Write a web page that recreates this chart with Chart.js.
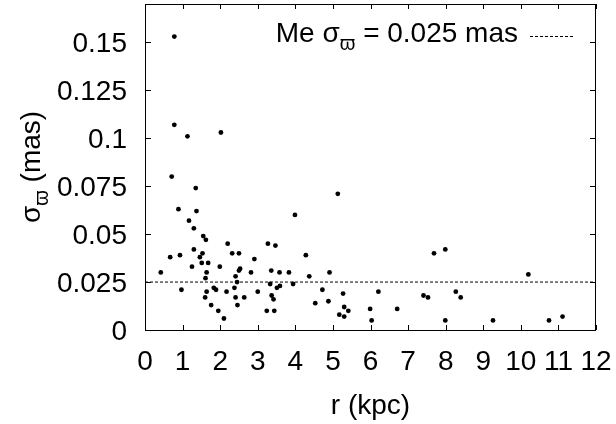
<!DOCTYPE html>
<html>
<head>
<meta charset="utf-8">
<script src="https://cdn.jsdelivr.net/npm/chart.js@4.4.1/dist/chart.umd.min.js"></script>
<style>
  html, body { margin: 0; padding: 0; background: #fff; }
  #wrap { width: 616px; height: 424px; }
</style>
</head>
<body>
<div id="wrap"><canvas id="sigmaChart"></canvas></div>
<script>
// distance r (kpc) and parallax error (mas)
const rKpc = [
  0.78, 0.78, 1.13, 2.02, 0.71, 1.35, 0.89, 1.37, 1.17, 1.30,
  1.55, 1.62, 2.20, 3.27, 0.67, 0.93, 1.30, 1.53, 1.46, 2.32,
  2.50, 2.91, 0.42, 1.25, 1.51, 1.68, 1.99, 1.64, 2.53, 2.50,
  2.82, 3.36, 1.61, 2.41, 2.45, 0.97, 1.64, 1.83, 1.89, 2.17,
  2.38, 3.00, 3.33, 3.37, 3.42, 1.60, 2.41, 2.64, 1.76, 2.46,
  1.95, 3.24, 2.10, 5.13, 3.99, 3.47, 4.28, 7.69, 3.58, 3.83,
  4.91, 4.37, 3.94, 3.59, 3.51, 4.72, 6.21, 5.27, 7.41, 7.53,
  4.53, 4.88, 5.30, 5.41, 5.17, 5.30, 3.44, 5.99, 6.71, 6.03,
  7.99, 10.20, 8.27, 8.40, 7.99, 9.26, 10.75, 11.11
];
const sigmaMas = [
  0.153, 0.107, 0.101, 0.103, 0.080, 0.074, 0.063, 0.062, 0.057, 0.053,
  0.049, 0.047, 0.045, 0.045, 0.038, 0.039, 0.042, 0.040, 0.038, 0.040,
  0.040, 0.037, 0.030, 0.033, 0.035, 0.035, 0.033, 0.030, 0.032, 0.031,
  0.030, 0.031, 0.027, 0.028, 0.025, 0.021, 0.020, 0.022, 0.021, 0.020,
  0.022, 0.020, 0.024, 0.018, 0.016, 0.017, 0.017, 0.017, 0.013, 0.013,
  0.010, 0.010, 0.006, 0.071, 0.060, 0.044, 0.039, 0.040, 0.030, 0.030,
  0.030, 0.028, 0.024, 0.023, 0.022, 0.021, 0.020, 0.019, 0.018, 0.017,
  0.014, 0.015, 0.012, 0.010, 0.008, 0.007, 0.010, 0.011, 0.011, 0.005,
  0.042, 0.029, 0.020, 0.017, 0.005, 0.005, 0.005, 0.007
];
const medianSigma = 0.025;
const medianRange = [0, 12];

const xTicks = [0, 1, 2, 3, 4, 5, 6, 7, 8, 9, 10, 11, 12];
const yTicks = [0, 0.025, 0.05, 0.075, 0.1, 0.125, 0.15];
const yTickLabels = ['0', '0.025', '0.05', '0.075', '0.1', '0.125', '0.15'];

const FONT = "'Liberation Sans', Arial, sans-serif";
const FSIZE = 28;

const points = rKpc.map((r, i) => ({ x: r, y: sigmaMas[i] }));
const medianLine = medianRange.map(r => ({ x: r, y: medianSigma }));

// text "σ" with subscript "ϖ" followed by rest, drawn piece by piece
function drawSigmaText(ctx, pre, post, x, y, size) {
  const subSize = Math.round(size * 0.7);
  ctx.font = size + 'px ' + FONT;
  let cx = x;
  ctx.fillText(pre + 'σ', cx, y);
  cx += ctx.measureText(pre + 'σ').width;
  ctx.font = subSize + 'px ' + FONT;
  ctx.fillText('ϖ', cx, y + size * 0.28);
  cx += ctx.measureText('ϖ').width;
  ctx.font = size + 'px ' + FONT;
  ctx.fillText(post, cx, y);
}
function sigmaTextWidth(ctx, pre, post, size) {
  const subSize = Math.round(size * 0.7);
  ctx.font = size + 'px ' + FONT;
  let w = ctx.measureText(pre + 'σ').width + ctx.measureText(post).width;
  ctx.font = subSize + 'px ' + FONT;
  return w + ctx.measureText('ϖ').width;
}

const framePlugin = {
  id: 'frame',
  afterDraw(chart) {
    const ctx = chart.ctx;
    const a = chart.chartArea;
    const xs = chart.scales.x, ys = chart.scales.y;
    ctx.save();
    ctx.strokeStyle = '#000';
    ctx.lineWidth = 1;
    ctx.strokeRect(a.left + 0.5, a.top + 0.5, a.right - a.left - 1, a.bottom - a.top);
    // inward ticks on all four sides
    ctx.beginPath();
    xs.ticks.forEach(t => {
      const px = Math.round(xs.getPixelForValue(t.value)) + 0.5;
      ctx.moveTo(px, a.bottom); ctx.lineTo(px, a.bottom - 5);
      ctx.moveTo(px, a.top); ctx.lineTo(px, a.top + 5);
    });
    ys.ticks.forEach(t => {
      const py = Math.round(ys.getPixelForValue(t.value)) + 0.5;
      ctx.moveTo(a.left, py); ctx.lineTo(a.left + 6, py);
      ctx.moveTo(a.right, py); ctx.lineTo(a.right - 6, py);
    });
    ctx.stroke();

    ctx.fillStyle = '#000';
    ctx.textBaseline = 'alphabetic';
    ctx.font = FSIZE + 'px ' + FONT;

    // tick labels
    ctx.textAlign = 'center';
    xs.ticks.forEach(t => {
      ctx.fillText(String(t.value), xs.getPixelForValue(t.value), 370);
    });
    ctx.textAlign = 'right';
    ys.ticks.forEach((t, i) => {
      ctx.fillText(yTickLabels[i], 127, ys.getPixelForValue(t.value) + 10);
    });

    // legend
    ctx.textAlign = 'left';
    const lw = sigmaTextWidth(ctx, 'Me ', ' = 0.025 mas', FSIZE);
    drawSigmaText(ctx, 'Me ', ' = 0.025 mas', 518 - lw, 42, FSIZE);
    ctx.setLineDash([3, 2]);
    ctx.beginPath();
    ctx.moveTo(530, 36.5); ctx.lineTo(575, 36.5);
    ctx.stroke();
    ctx.setLineDash([]);

    // x title
    ctx.font = FSIZE + 'px ' + FONT;
    ctx.textAlign = 'center';
    ctx.fillText('r (kpc)', (a.left + a.right) / 2, 414);

    // y title, rotated
    ctx.textAlign = 'left';
    const yw = sigmaTextWidth(ctx, '', ' (mas)', FSIZE);
    ctx.translate(40, (a.top + a.bottom) / 2);
    ctx.rotate(-Math.PI / 2);
    drawSigmaText(ctx, '', ' (mas)', -yw / 2, 0, FSIZE);
    ctx.restore();
  }
};

new Chart(document.getElementById('sigmaChart'), {
  type: 'scatter',
  data: {
    datasets: [{
      label: 'stars',
      data: points,
      backgroundColor: '#000',
      borderColor: '#000',
      pointRadius: 2.4,
      pointBorderWidth: 0,
      order: 1
    }, {
      label: 'median',
      type: 'line',
      data: medianLine,
      borderColor: '#000',
      borderWidth: 1,
      borderDash: [3, 2],
      pointRadius: 0,
      fill: false,
      order: 2
    }]
  },
  options: {
    responsive: true,
    maintainAspectRatio: false,
    animation: false,
    events: [],
    layout: { padding: { left: 0, right: 20, top: 3, bottom: 0 } },
    plugins: {
      legend: { display: false },
      tooltip: { enabled: false }
    },
    scales: {
      x: {
        type: 'linear',
        min: 0, max: 12,
        afterBuildTicks: s => { s.ticks = xTicks.map(v => ({ value: v })); },
        afterFit: s => { s.height = 94; },
        grid: { display: false, drawTicks: false },
        border: { display: false },
        ticks: { display: false }
      },
      y: {
        type: 'linear',
        min: 0, max: 0.17,
        afterBuildTicks: s => { s.ticks = yTicks.map(v => ({ value: v })); },
        afterFit: s => { s.width = 145; },
        grid: { display: false, drawTicks: false },
        border: { display: false },
        ticks: { display: false }
      }
    }
  },
  plugins: [framePlugin]
});
</script>
</body>
</html>
